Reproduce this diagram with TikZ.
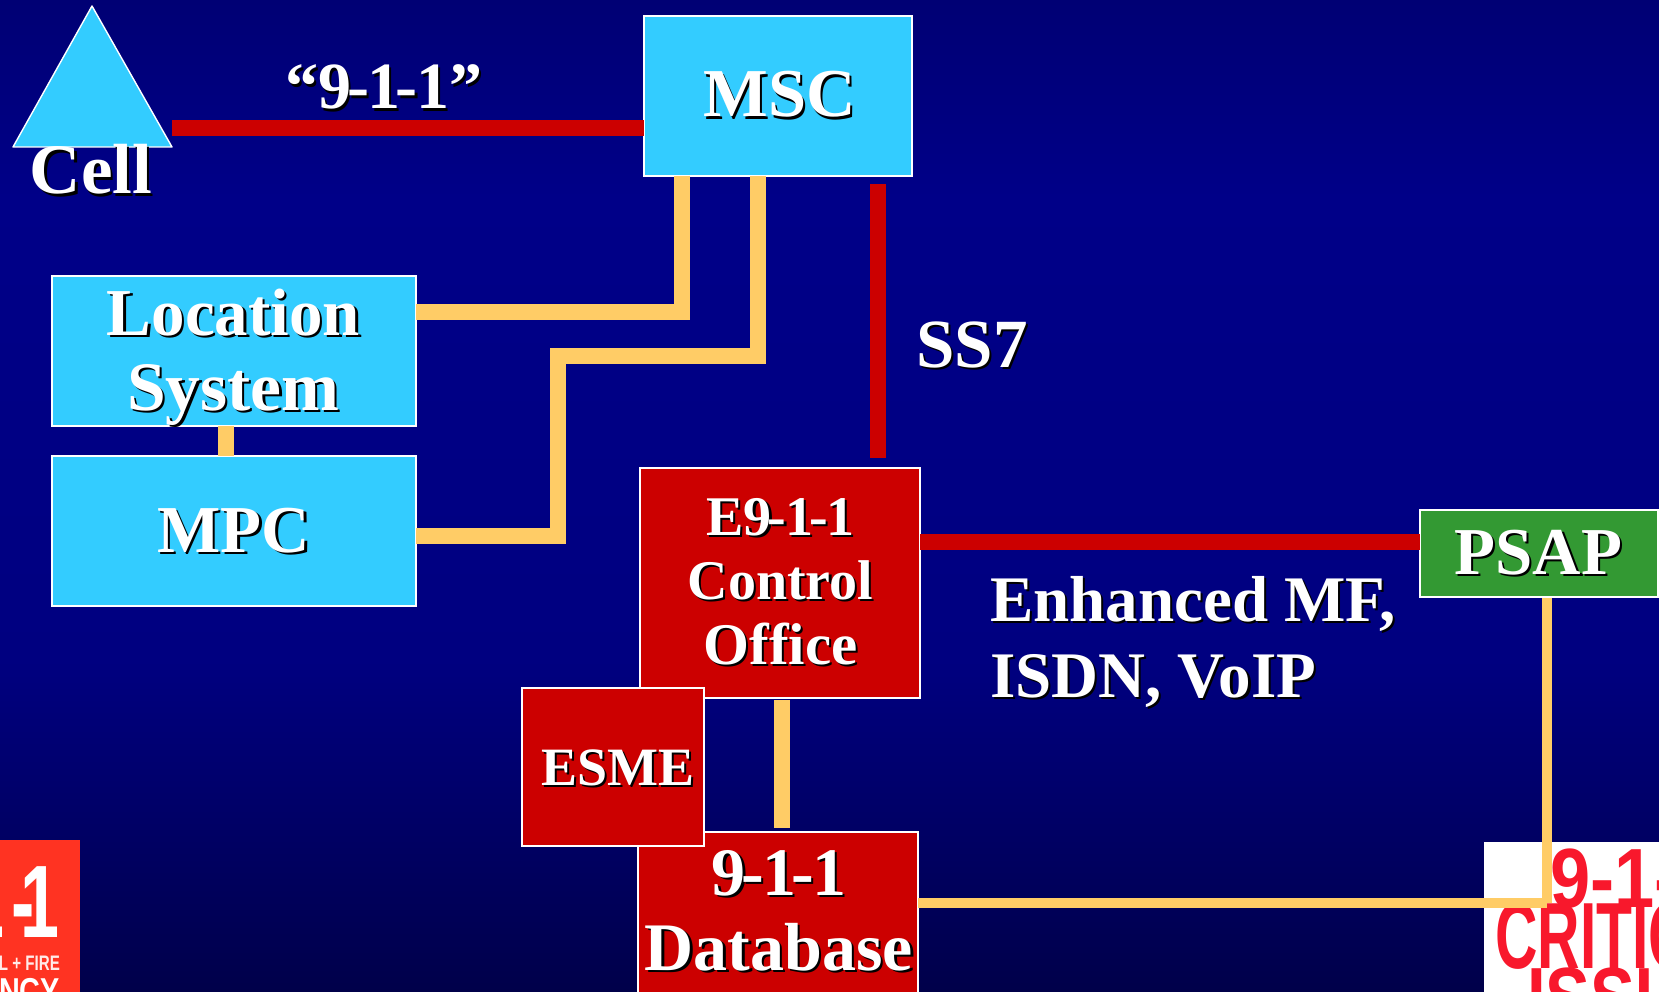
\documentclass[tikz,border=0pt]{standalone}
\usepackage{fontspec}
\setmainfont[Ligatures=NoCommon]{Liberation Serif}
\newfontfamily\sansface{Liberation Sans}
\usetikzlibrary{calc}
\definecolor{cyanbox}{HTML}{33CCFF}
\definecolor{redbox}{HTML}{CC0000}
\definecolor{greenbox}{HTML}{339933}
\definecolor{wireorange}{HTML}{FFCC66}
\definecolor{badgered}{HTML}{FF3322}
\definecolor{issuered}{HTML}{F8182C}
\definecolor{bgbot}{HTML}{00004A}
\definecolor{bgmid}{HTML}{000080}
\definecolor{bgup}{HTML}{000088}
\definecolor{bgtop}{HTML}{000074}
\pgfdeclareverticalshading{slidebg}{100bp}{
  color(0bp)=(bgbot);
  color(25bp)=(bgbot); color(41.7bp)=(bgmid); color(65bp)=(bgup); color(75bp)=(bgtop); color(100bp)=(bgtop)}
\newcommand{\shd}[1]{\leavevmode\rlap{\kern2.2pt\raisebox{-2.2pt}{\color{black}#1}}#1}
\newcommand{\hy}{\kern-.07em-\kern-.025em}
% \lbl{dx}{first baseline above centre}{size}{skip}{lines}
\newcommand{\lbl}[5]{\raisebox{#2pt}[0pt][0pt]{\makebox[0pt]{\kern#1pt\fontsize{#3}{#4}\selectfont\bfseries\color{white}\begin{tabular}[t]{@{}c@{}}#5\end{tabular}}}}
\tikzset{
  x=1pt,y=-1pt,
  boxnode/.style={draw=white,line width=1.6pt,inner sep=0pt,outer sep=0pt},
  cyannode/.style={boxnode,fill=cyanbox},
  rednode/.style={boxnode,fill=redbox},
  greennode/.style={boxnode,fill=greenbox},
  redwire/.style={draw=redbox,line width=16pt},
  orangewire/.style={draw=wireorange,line width=15.5pt},
  thinwire/.style={draw=wireorange,line width=10pt},
  caption/.style={inner sep=0pt,outer sep=0pt,anchor=base,text=white,font=\bfseries},
}
\begin{document}
\begin{tikzpicture}
\path[use as bounding box,clip] (0,0) rectangle (1659,992);
\fill[shading=slidebg,shading angle=0] (0,0) rectangle (1659,992);

% corner logos
\begin{scope}
\clip (0,840) rectangle (80,992);
\fill[badgered] (0,840) rectangle (80,992);
\node[anchor=base east,inner sep=0pt,text=white,xscale=.68] (logoa) at (60,937) {\fontsize{103}{103}\selectfont\sansface\bfseries 1\kern10pt-\kern-20pt 1};
\node[anchor=base east,inner sep=0pt,text=white!90!badgered,xscale=.72] (logob) at (60,970) {\fontsize{21}{21}\selectfont\sansface\bfseries L + FIRE};
\node[anchor=base east,inner sep=0pt,text=white,xscale=.8] (logoc) at (60,1003) {\fontsize{36}{36}\selectfont\sansface\bfseries NCY};
\end{scope}
\begin{scope}
\clip (1484,842) rectangle (1659,992);
\fill[white] (1484,842) rectangle (1659,992);
\node[anchor=base west,inner sep=0pt,text=issuered,xscale=.86] (logod) at (1550,907) {\fontsize{84}{84}\selectfont\sansface\bfseries 9-1-1};
\node[anchor=base west,inner sep=0pt,text=issuered,xscale=.7,yscale=1.12] (logoe) at (1495,968) {\fontsize{84}{84}\selectfont\sansface\bfseries CRITIC};
\node[anchor=base west,inner sep=0pt,text=issuered,xscale=.8] (logof) at (1527,1026) {\fontsize{84}{84}\selectfont\sansface\bfseries ISSUES};
\end{scope}

% cell
\fill[cyanbox,draw=white,line width=1.4pt,line join=round] (92,6) -- (172,147) -- (13,147) -- cycle;
\coordinate (cellport) at (172,128);
\node[caption] (cell) at (91,194) {\shd{\fontsize{71}{71}\selectfont Cell}};
\node[caption] (call) at (384,109) {\shd{\fontsize{66}{66}\selectfont “9\hy1\hy1”}};
\node[caption] (ss) at (972,367) {\shd{\fontsize{69}{69}\selectfont SS7}};
\node[inner sep=0pt,outer sep=0pt,anchor=base west,text=white] (nets) at (990,621)
  {\fontsize{65}{76}\selectfont\bfseries\begin{tabular}[t]{@{}l@{}}\shd{Enhanced MF,}\\\shd{ISDN, VoIP}\end{tabular}};

% boxes
\node[cyannode,minimum width=268pt,minimum height=160pt] (msc) at (778,96)
  {\lbl{3.5}{-21}{68.5}{75}{\shd{MSC}}};
\node[cyannode,minimum width=364pt,minimum height=150pt] (loc) at (234,351)
  {\lbl{-1}{16}{69.5}{75}{{\fontsize{67}{75}\selectfont\shd{Location}}\\\shd{System}}};
\node[cyannode,minimum width=364pt,minimum height=150pt] (mpc) at (234,531)
  {\lbl{0}{-21.5}{67}{75}{\shd{MPC}}};
\node[rednode,minimum width=280pt,minimum height=230pt] (ctl) at (780,583)
  {\lbl{1}{48}{56}{64.5}{\shd{E9\hy1\hy1}\\\shd{Control}\\{\fontsize{59}{64.5}\selectfont\shd{Office}}}};
\node[rednode,minimum width=280pt,minimum height=170pt] (db) at (778,917)
  {\lbl{2}{22}{68}{75}{\shd{9\hy1\hy1}\\\shd{Database}}};
\node[rednode,minimum width=182pt,minimum height=158pt] (esme) at (613,767)
  {\lbl{10.5}{-18}{54}{60}{\shd{ESME}}};
\node[greennode,minimum width=238pt,minimum height=87pt] (psap) at (1539,553.5)
  {\lbl{-1}{-20.5}{67}{70}{\shd{PSAP}}};

% connectors
\draw[redwire] (cellport) -- (cellport -| msc.west);
\draw[redwire] ([xshift=100pt,yshift=-8pt]msc.south) -- ([xshift=98pt,yshift=10pt]ctl.north);
\draw[redwire] (ctl.east |- 0,542) -- (psap.west |- 0,542);
\draw[orangewire] ([xshift=-96pt]msc.south) |- (loc.east |- 0,312);
\draw[orangewire] ([xshift=-20pt]msc.south) |- (558,356) |- (mpc.east |- 0,536);
\draw[orangewire] (loc.south -| 226,0) -- (mpc.north -| 226,0);
\draw[orangewire] ([yshift=-2pt,xshift=2pt]ctl.south) -- ([yshift=4pt,xshift=4pt]db.north);
\coordinate (junction) at (1547,903);
\draw[thinwire] (db.east |- junction) -- (junction);
\draw[thinwire] (psap.south -| junction) ++(0,1) -- (junction);
\end{tikzpicture}
\end{document}
